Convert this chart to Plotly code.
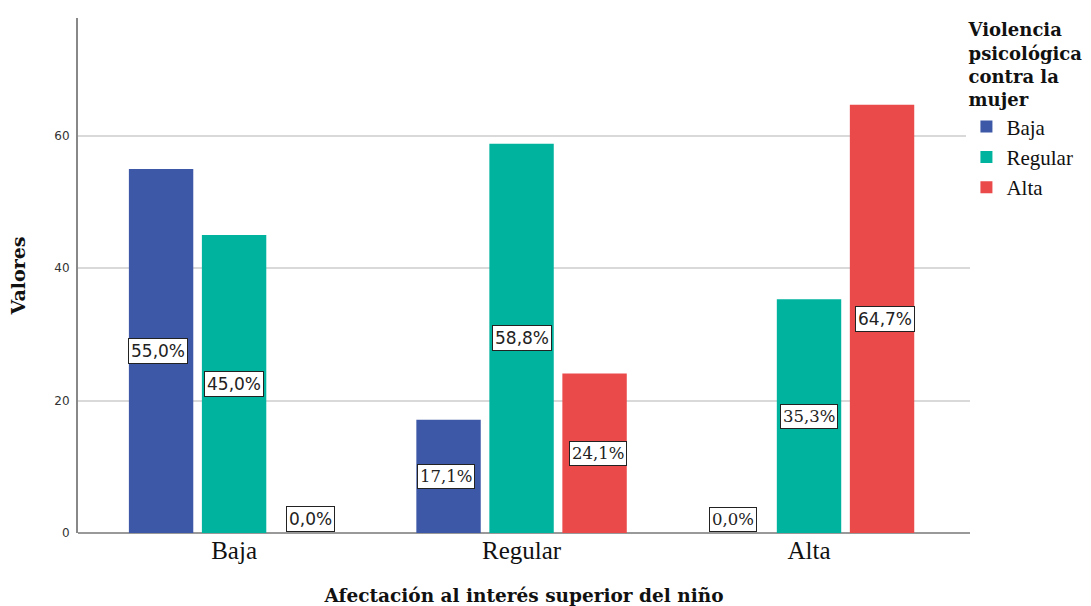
import plotly.graph_objects as go

categories = ["Baja", "Regular", "Alta"]
series_names = ["Baja", "Regular", "Alta"]
baja_vals = [55.0, 17.1, 0.0]
regular_vals = [45.0, 58.8, 35.3]
alta_vals = [0.0, 24.1, 64.7]
y_ticks = [0, 20, 40, 60]

colors = ["#3e58a8", "#00b39e", "#ea4a4a"]
series_vals = [baja_vals, regular_vals, alta_vals]

SERIF = "Liberation Serif"
DSERIF = "DejaVu Serif"
SANS = "DejaVu Sans"
# label font per series per category (reference mixes fonts)
label_fonts = [[SANS, DSERIF, DSERIF], [SANS, SANS, DSERIF], [SANS, DSERIF, SANS]]
label_sizes = {SANS: 17, DSERIF: 16.5}

fig = go.Figure()
for name, vals, col in zip(series_names, series_vals, colors):
    fig.add_trace(go.Bar(x=categories, y=vals, name=name, marker_color=col,
                         marker_line_width=0))

bar_step_px = 76
annotations = []
for si, vals in enumerate(series_vals):
    for ci, v in enumerate(vals):
        txt = f"{v:.1f}%".replace(".", ",")
        fam = label_fonts[si][ci]
        common = dict(x=categories[ci], xref="x", yref="y",
                      xshift=(si - 1) * bar_step_px, text=txt, showarrow=False,
                      bgcolor="white", bordercolor="#222", borderwidth=1, borderpad=2,
                      font=dict(family=fam, size=label_sizes[fam], color="#222"))
        if v == 0:
            annotations.append(dict(y=0, yshift=1, yanchor="bottom", **common))
        else:
            annotations.append(dict(y=v / 2, **common))

fig.update_layout(
    width=1091, height=606,
    margin=dict(l=78, r=121, t=18, b=73, autoexpand=False),
    paper_bgcolor="white", plot_bgcolor="white",
    barmode="group", bargap=0.238, bargroupgap=0.118,
    showlegend=True,
    legend=dict(x=0.996, xanchor="left", y=1.01, yanchor="top",
                title=dict(text="<b>Violencia<br>psicológica<br>contra la<br>mujer</b>",
                           side="top center",
                           font=dict(family=DSERIF, size=18, color="#111")),
                font=dict(family=SERIF, size=21, color="#111"),
                tracegroupgap=0, itemwidth=30),
    annotations=annotations,
    xaxis=dict(range=[-0.543, 2.56], showgrid=False, ticks="", automargin=False,
               tickfont=dict(family=SERIF, size=25, color="#111"),
               showline=False,
               title=dict(text="<b>Afectación al interés superior del niño</b>",
                          font=dict(family=DSERIF, size=18.5, color="#111"), standoff=30)),
    yaxis=dict(range=[0, 77.8], tickvals=y_ticks, showgrid=True, gridcolor="#d9d9d9",
               gridwidth=2, zeroline=True, zerolinecolor="#999", zerolinewidth=2,
               showline=True, linecolor="#888", linewidth=2, ticks="", automargin=False,
               ticklabelstandoff=4,
               tickfont=dict(family=SANS, size=12, color="#333"),
               title=dict(text="<b>Valores</b>", font=dict(family=DSERIF, size=19, color="#111"),
                          standoff=24)),
)

fig.write_html("out.html", config={"displayModeBar": False},
               post_script="document.body.style.margin='0';")
